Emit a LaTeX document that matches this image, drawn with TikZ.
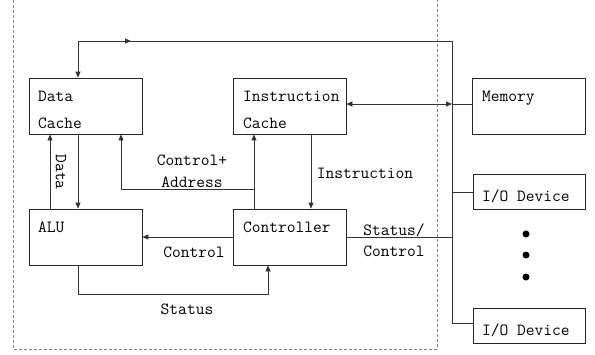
\documentclass[tikz,border=0pt]{standalone}
\usepackage{fontspec}
\usetikzlibrary{arrows.meta}
\begin{document}
\begin{tikzpicture}[x=1pt,y=-1pt,
  box/.style={draw=black!85, line width=0.8pt, minimum width=113pt, minimum height=56pt, inner sep=0pt},
  iobox/.style={draw=black!85, line width=0.8pt, minimum width=112pt, minimum height=35pt, inner sep=0pt},
  txt/.style={font=\ttfamily\fontsize{17}{26.6}\selectfont, inner sep=0pt, align=left},
  lbl/.style={font=\ttfamily\fontsize{17}{22}\selectfont, inner sep=0pt, anchor=base},
  wire/.style={draw=black!80, line width=0.8pt},
  arr/.style={wire, -{Triangle[length=6pt,width=5pt]}},
  darr/.style={wire, {Triangle[length=6pt,width=5pt]}-{Triangle[length=6pt,width=5pt]}},
  dot/.style={circle, fill=black, inner sep=0pt, minimum size=7pt}]
\useasboundingbox (0,0) rectangle (595,354);
% dashed CPU boundary
\draw[gray, dashed, dash pattern=on 3pt off 2pt, line width=0.8pt] (13,0) -- (13,349) -- (437,349) -- (437,0);
% boxes
\node[box] (dc) at (85.5,106) {};
\node[box] (ic) at (289.5,106) {};
\node[box] (mem) at (529,106) {};
\node[box] (alu) at (85.5,237) {};
\node[box] (ctl) at (289.5,237) {};
\node[iobox] (io1) at (529,192) {};
\node[iobox] (io2) at (529,326) {};
% box texts
\node[txt, anchor=base west] (tdc) at (38,128.3) {Data\\Cache};
\node[txt, anchor=base west] (tic) at (243,128.3) {Instruction\\Cache};
\node[txt, anchor=base west] (tmem) at (482,101.7) {Memory};
\node[txt, anchor=base west] (talu) at (38,232.7) {ALU};
\node[txt, anchor=base west] (tctl) at (243,232.7) {Controller};
\node[txt, anchor=base west] (tio1) at (482,201.7) {I/O Device};
\node[txt, anchor=base west] (tio2) at (482,335.7) {I/O Device};
% dots
\node[dot] (d1) at (526,234) {};
\node[dot] (d2) at (526,255) {};
\node[dot] (d3) at (526,277) {};
% bus
\coordinate (busTop) at (452,41);
\coordinate (busBot) at (452,323);
\coordinate (tl) at (78,41);
\coordinate (tm) at (131,41);
\draw[wire] (busTop) -- (busBot);
\draw[wire] (tl) -- (busTop);
\draw[arr] (tl) -- (tm);
\draw[arr] (tl) -- ([xshift=-7.5pt]dc.north);
% memory / instruction cache
\coordinate (bm) at (452,104);
\draw[darr] (ic.east |- bm) -- (bm);
\draw[wire] (bm) -- (mem.west |- bm);
% I/O devices
\draw[wire] (io1.west -| busTop) -- (io1.west);
\draw[wire] (busBot) -- (io2.west |- busBot);
% controller to bus
\draw[wire] (ctl.east) -- (ctl.east -| busTop);
% data cache <-> ALU
\draw[arr] ([xshift=-7.5pt]dc.south) -- ([xshift=-7.5pt]alu.north);
\draw[arr] ([xshift=-35.5pt]alu.north) -- ([xshift=-35.5pt]dc.south);
\node[lbl, rotate=-90, anchor=center] (ldata) at (61,172) {Data};
% control + address
\coordinate (ca) at (254,189);
\coordinate (cb) at (121,189);
\draw[wire] ([xshift=-35.5pt]ctl.north) -- (ca);
\draw[arr] (ca) -- ([xshift=-35.5pt]ic.south);
\draw[arr] (ca) -- (cb) -- ([xshift=35.5pt]dc.south);
\node[lbl] (lca1) at (192,165) {Control+};
\node[lbl] (lca2) at (192,187) {Address};
% instruction
\draw[arr] ([xshift=21.5pt]ic.south) -- ([xshift=21.5pt]ctl.north);
\node[lbl] (lins) at (365,178) {Instruction};
% control to ALU
\draw[arr] (ctl.west) -- (alu.east);
\node[lbl] (lctl) at (194,257) {Control};
% status
\coordinate (sc) at (268,294);
\draw[arr] ([xshift=-7.5pt]alu.south) |- (sc) -- (ctl.south -| sc);
\node[lbl] (lst) at (187,314) {Status};
% status/control to bus
\node[lbl] (lsc1) at (394,235) {Status/};
\node[lbl] (lsc2) at (394,256) {Control};
\end{tikzpicture}
\end{document}
